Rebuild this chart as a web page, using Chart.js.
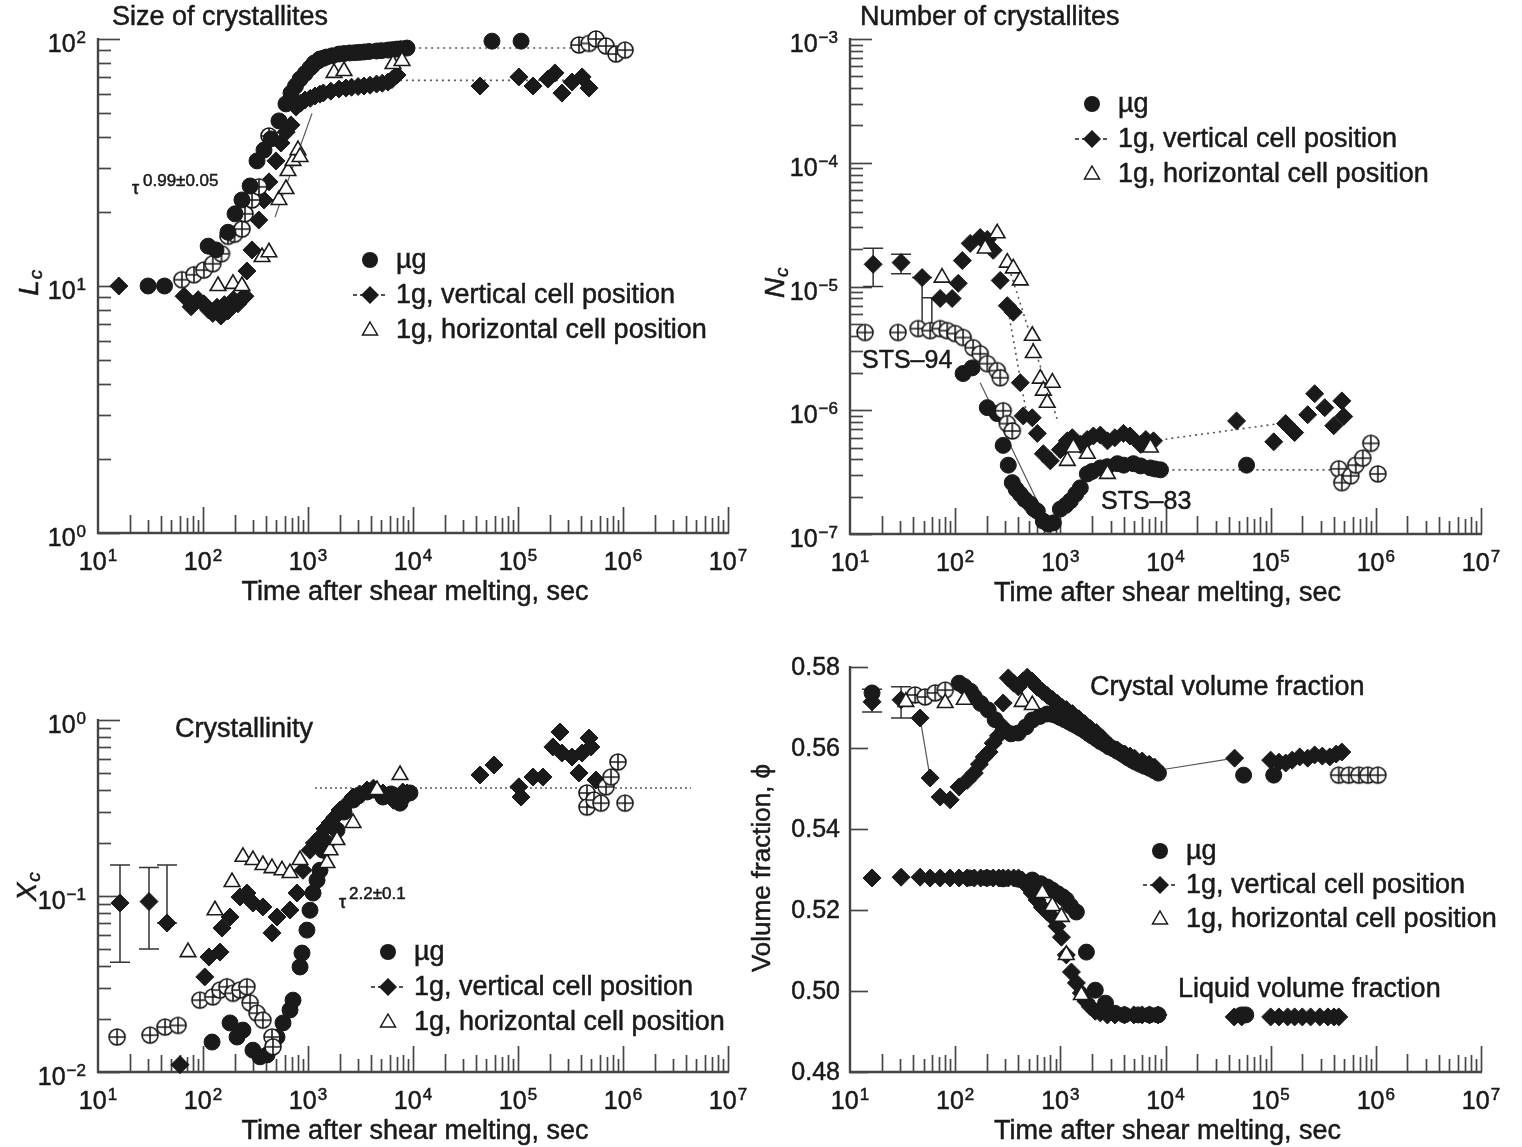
<!DOCTYPE html>
<html>
<head>
<meta charset="utf-8">
<script src="https://cdn.jsdelivr.net/npm/chart.js@4.4.1/dist/chart.umd.min.js"></script>
<style>
  body { margin: 0; background: #fff; }
  #wrap { position: relative; width: 1522px; height: 1147px; }
  #wrap canvas { position: absolute; left: 0; top: 0; }
</style>
</head>
<body>
<div id="wrap">
  <canvas id="c1" width="1522" height="1147"></canvas>
  <canvas id="c2" width="1522" height="1147"></canvas>
  <canvas id="c3" width="1522" height="1147"></canvas>
  <canvas id="c4" width="1522" height="1147"></canvas>
</div>
<script>
// ---- Size of crystallites (Lc) ----
const lcMuT = [30, 43, 112, 133, 173, 202, 235, 281, 327, 381, 444, 529, 617, 689, 760, 840, 940, 1045, 1100, 1150, 1250, 1301, 1400, 1500, 1700, 1974, 2200, 2500, 2800, 3100, 3415, 3800, 4500, 5000, 5783, 6300, 7000, 7700, 8770, 56500, 107000];
const lcMuL = [10, 10, 14.5, 14.0, 16.5, 19.6, 22.3, 25.4, 32.1, 35.5, 39.4, 46.6, 54.6, 60.4, 64.5, 68.8, 72.5, 76.3, 78, 80, 81.5, 83.0, 83.5, 84.5, 85.5, 86.9, 87.3, 87.8, 88, 88.3, 88.6, 89, 89.4, 89.7, 90.2, 90.5, 91, 91.3, 91.9, 98, 98];
const lcCrossT = [63, 82, 102, 124, 150, 173, 200, 235, 251, 293, 341, 425, 381000, 475000, 553000, 689000, 857000, 1045000];
const lcCrossL = [10.6, 11.1, 11.6, 12.3, 13.5, 15.9, 16.2, 17.0, 19.6, 22.3, 25.2, 40.5, 94.6, 96, 100, 93.7, 86.9, 90.2];
const lcVertT = [15.8, 66, 77, 90, 102, 113, 124, 136, 148, 160, 173, 195, 215, 235, 251, 262, 293, 340, 381, 425, 495, 553, 620, 689, 769, 850, 936, 1050, 1166, 1300, 1400, 1650, 1974, 2300, 2600, 3000, 3415, 3900, 4500, 5100, 5783, 6300, 7050, 43500, 102000, 139000, 193000, 225000, 262000, 327000, 408000, 475000];
const lcVertL = [10, 9.09, 8.24, 8.8, 8.47, 8.0, 7.74, 8.2, 7.56, 8.4, 7.93, 8.8, 8.47, 8.9, 9.09, 11.5, 14.0, 18.5, 22.3, 26.4, 32.1, 37.9, 42, 44.9, 53.0, 55, 56.6, 57.5, 58.8, 59.8, 60.5, 61.5, 62.7, 63.3, 63.8, 64.2, 64.5, 65, 65.7, 66.2, 66.9, 68.5, 71.5, 64.5, 70.2, 64.5, 68.8, 72.9, 60.4, 66.9, 70.2, 63.3];
const lcHorT = [139, 193, 235, 365, 425, 529, 617, 645, 720, 803, 840, 1770, 2201, 6450, 7860];
const lcHorL = [10, 10.2, 10, 13.1, 13.7, 22.3, 24.7, 29.2, 32.1, 35.5, 33.3, 72.9, 74.2, 79.2, 81.5];
const lcDotHiT = [8800, 400000];
const lcDotHiL = [92, 92];
const lcDotLoT = [7500, 420000];
const lcDotLoL = [68, 68];
const lcFitT = [485, 1092];
const lcFitL = [19, 50];

// ---- Number of crystallites (Nc) ----
const ncVertT = [16.6, 30.6, 48.5, 72, 93.6, 107, 117, 139, 173, 202, 230, 268, 313, 357, 416, 444, 541, 604, 689, 803, 1000, 1166, 1300, 1549, 1800, 2061, 2400, 2805, 3300, 3981, 4600, 5783, 6500, 7690, 47400, 107000, 139000, 169000, 225000, 262000, 327000, 398000, 475000, 495000];
const ncVertN = [1.51e-5, 1.56e-5, 1.18e-5, 8.0e-6, 8.0e-6, 1.06e-5, 1.62e-5, 2.23e-5, 2.49e-5, 2.4e-5, 1.96e-5, 1.12e-5, 7.0e-6, 6.2e-6, 1.67e-6, 9.0e-7, 8.7e-7, 6.5e-7, 4.45e-7, 3.9e-7, 4.8e-7, 5.66e-7, 6.0e-7, 5.3e-7, 5.8e-7, 6.2e-7, 6.3e-7, 5.66e-7, 6.0e-7, 6.5e-7, 6.2e-7, 5.3e-7, 5.8e-7, 5.66e-7, 8.2e-7, 5.56e-7, 7.8e-7, 6.6e-7, 9.2e-7, 1.36e-6, 1.05e-6, 7.5e-7, 1.19e-6, 8.9e-7];
const ncHorT = [75, 193, 251, 313, 357, 416, 541, 553, 645, 689, 751, 840, 1166, 1330, 1807, 2805, 7190];
const ncHorN = [1.18e-5, 2.03e-5, 2.69e-5, 1.56e-5, 1.4e-5, 1.12e-5, 4.0e-6, 2.9e-6, 1.8e-6, 1.44e-6, 1.15e-6, 1.67e-6, 3.9e-7, 5.0e-7, 4.45e-7, 3.06e-7, 5.0e-7];
const ncMuT = [119, 145, 202, 251, 286, 320, 349, 380, 416, 460, 518, 560, 604, 689, 770, 858, 1000, 1120, 1245, 1400, 1549, 1807, 2000, 2404, 2800, 3491, 4000, 4955, 5800, 7190, 8000, 8960, 59000];
const ncMuN = [1.98e-6, 2.2e-6, 1.05e-6, 9.4e-7, 5.2e-7, 3.6e-7, 2.6e-7, 2.3e-7, 2.1e-7, 1.9e-7, 1.75e-7, 1.6e-7, 1.53e-7, 1.27e-7, 1.2e-7, 1.23e-7, 1.59e-7, 1.7e-7, 1.85e-7, 2.1e-7, 2.36e-7, 3.06e-7, 3.2e-7, 3.42e-7, 3.5e-7, 3.7e-7, 3.6e-7, 3.7e-7, 3.55e-7, 3.42e-7, 3.35e-7, 3.3e-7, 3.6e-7];
const ncCrossT = [13.9, 28.6, 44.5, 57.8, 72, 84, 100, 119, 148, 173, 202, 251, 268, 286, 313, 349, 444000, 475000, 578000, 645000, 751000, 896000, 1045000];
const ncCrossN = [4.25e-6, 4.25e-6, 4.57e-6, 4.4e-6, 4.57e-6, 4.4e-6, 4.17e-6, 3.87e-6, 3.2e-6, 2.86e-6, 2.38e-6, 2.09e-6, 1.83e-6, 9.9e-7, 7.8e-7, 6.8e-7, 3.36e-7, 2.6e-7, 2.95e-7, 3.6e-7, 4.1e-7, 5.4e-7, 3.06e-7];
const ncErrT = [16.6, 30.6, 48.5, 60];
const ncErrHi = [2.04e-5, 1.82e-5, 1.18e-5, 8.1e-6];
const ncErrLo = [1.0e-5, 1.27e-5, 4.4e-6, 4.4e-6];
const ncDotVertT = [7690, 150000];
const ncDotVertN = [5.66e-7, 8.0e-7];
const ncDotMuT = [8960, 430000];
const ncDotMuN = [3.3e-7, 3.3e-7];
const ncDotHorT = [313, 957];
const ncDotHorN = [1.56e-5, 7.9e-7];
const ncDotDropT = [313, 485];
const ncDotDropN = [7.0e-6, 8.7e-7];
const ncFitT = [173, 769, 1730];
const ncFitN = [1.67e-6, 1.2e-7, 2.54e-7];

// ---- Crystallinity (Xc) ----
const xcVertT = [16.2, 30.6, 45.4, 60.4, 104, 114, 145, 152, 181, 225, 262, 299, 372, 454, 507, 674, 785, 896, 1045, 1150, 1301, 1450, 1621, 1800, 2018, 2300, 2685, 3100, 3650, 4200, 4600, 5180, 6000, 6500, 7050, 8000, 8770, 43500, 59000, 102000, 107000, 139000, 173000, 215000, 251000, 262000, 327000, 381000, 408000, 475000, 495000, 553000];
const xcVertX = [0.0912, 0.093, 0.0703, 0.011, 0.0347, 0.045, 0.048, 0.0658, 0.076, 0.0987, 0.104, 0.0912, 0.0867, 0.0617, 0.076, 0.0832, 0.104, 0.14, 0.182, 0.2, 0.216, 0.24, 0.26, 0.28, 0.308, 0.33, 0.365, 0.38, 0.40, 0.41, 0.39, 0.385, 0.37, 0.35, 0.365, 0.39, 0.385, 0.487, 0.555, 0.417, 0.365, 0.474, 0.474, 0.703, 0.855, 0.649, 0.616, 0.5, 0.649, 0.79, 0.703, 0.456];
const xcMuT = [122, 181, 211, 240, 299, 349, 407, 507, 578, 674, 720, 840, 877, 977, 1045, 1117, 1219, 1301, 1390, 1500, 1888, 2200, 2685, 3000, 3650, 4200, 5180, 6200, 7520, 8200, 9350];
const xcMuX = [0.0148, 0.019, 0.0158, 0.0173, 0.0133, 0.0122, 0.0125, 0.0158, 0.019, 0.0225, 0.0256, 0.0395, 0.0474, 0.064, 0.083, 0.104, 0.123, 0.14, 0.182, 0.2, 0.237, 0.3, 0.351, 0.37, 0.39, 0.4, 0.365, 0.38, 0.337, 0.37, 0.385];
const xcCrossT = [15.2, 31.3, 43.5, 57.8, 93.5, 124, 145, 169, 193, 225, 262, 281, 327, 372, 454, 464, 454000, 454000, 530000, 617000, 689000, 769000, 896000, 1045000];
const xcCrossX = [0.0158, 0.0162, 0.018, 0.0184, 0.0256, 0.0267, 0.0292, 0.0305, 0.028, 0.0292, 0.0305, 0.0247, 0.0216, 0.0197, 0.0158, 0.0139, 0.385, 0.32, 0.351, 0.337, 0.417, 0.474, 0.577, 0.337];
const xcHorT = [72, 130, 189, 240, 299, 372, 454, 565, 674, 840, 1517, 1621, 1888, 2685, 4540, 7520];
const xcHorX = [0.048, 0.083, 0.12, 0.167, 0.16, 0.15, 0.144, 0.14, 0.135, 0.16, 0.154, 0.182, 0.208, 0.26, 0.40, 0.487];
const xcErrT = [16.2, 30.6, 45.4];
const xcErrHi = [0.15, 0.145, 0.15];
const xcErrLo = [0.042, 0.05, 0.0703];
const xcDotT = [1166, 4450000];
const xcDotX = [0.411, 0.411];

// ---- Volume fraction (phi) ----
const vfVertT = [16.2, 30.6, 46.4, 57.8, 72, 89.6, 109, 130, 152, 170, 189, 210, 230, 258, 286, 286, 320, 360, 398, 440, 485, 540, 604, 674, 750, 840, 940, 1040, 1140, 1300, 1500, 1700, 1930, 2200, 2500, 2990, 3500, 4100, 4600, 5070, 6000, 7000, 7860, 45400, 100000, 120000, 139000, 160000, 189000, 225000, 262000, 310000, 365000, 420000, 475000];
const vfVertY = [0.5714, 0.5719, 0.5674, 0.5526, 0.5479, 0.5472, 0.5504, 0.552, 0.5538, 0.556, 0.5578, 0.559, 0.5612, 0.563, 0.5652, 0.5711, 0.5773, 0.576, 0.5751, 0.5765, 0.5775, 0.5765, 0.575, 0.574, 0.573, 0.572, 0.571, 0.570, 0.5695, 0.5685, 0.5672, 0.566, 0.5648, 0.5638, 0.5625, 0.5605, 0.5595, 0.5585, 0.558, 0.5575, 0.5568, 0.556, 0.5553, 0.5575, 0.557, 0.5565, 0.5563, 0.557, 0.5578, 0.5575, 0.5583, 0.558, 0.5578, 0.5585, 0.559];
const vfMuT = [16.2, 109, 122, 140, 152, 175, 206, 240, 286, 340, 398, 470, 541, 640, 750, 840, 920, 1000, 1100, 1200, 1300, 1420, 1550, 1700, 1850, 2000, 2200, 2400, 2650, 2900, 3200, 3500, 3800, 4070, 4400, 4800, 5200, 5700, 6300, 7050, 7800, 8570, 55300, 107000];
const vfMuY = [0.5736, 0.576, 0.5752, 0.574, 0.5726, 0.571, 0.5694, 0.567, 0.5644, 0.5635, 0.5637, 0.5652, 0.5669, 0.5678, 0.5684, 0.5683, 0.568, 0.5675, 0.567, 0.5665, 0.566, 0.5655, 0.5649, 0.5643, 0.5636, 0.563, 0.5623, 0.5616, 0.561, 0.5603, 0.5598, 0.5592, 0.5587, 0.5582, 0.5576, 0.557, 0.5565, 0.556, 0.5555, 0.555, 0.5544, 0.5538, 0.5533, 0.5533];
const vfCrossT = [41.6, 51.8, 64.5, 80.4, 444000, 553000, 689000, 840000, 1045000];
const vfCrossY = [0.5731, 0.5726, 0.5736, 0.5743, 0.5533, 0.5533, 0.5533, 0.5533, 0.5533];
const vfHorT = [34, 80.4, 122, 434, 541, 674, 840, 1024, 1140, 1585];
const vfHorY = [0.5714, 0.5711, 0.5719, 0.5714, 0.5706, 0.5242, 0.521, 0.5183, 0.5089, 0.499];
const lqVertT = [16.2, 30.6, 46.4, 57.8, 72, 89.6, 109, 130, 152, 175, 200, 230, 260, 286, 320, 360, 400, 434, 480, 541, 600, 674, 750, 840, 930, 1024, 1140, 1275, 1420, 1585, 1750, 1930, 2150, 2400, 2800, 3300, 4070, 5000, 6000, 7050, 8500, 45000, 53000, 100000, 120000, 145000, 169000, 200000, 240000, 293000, 350000, 400000, 444000];
const lqVertY = [0.5279, 0.5281, 0.5281, 0.5279, 0.5279, 0.5279, 0.5279, 0.5279, 0.5279, 0.5279, 0.5279, 0.5279, 0.5279, 0.5279, 0.5279, 0.5279, 0.5279, 0.5274, 0.526, 0.5242, 0.5225, 0.5207, 0.5195, 0.5183, 0.516, 0.5133, 0.5089, 0.5047, 0.502, 0.4995, 0.4975, 0.4961, 0.495, 0.4946, 0.4941, 0.4941, 0.4941, 0.4941, 0.4941, 0.4941, 0.4941, 0.4936, 0.4936, 0.4936, 0.4936, 0.4936, 0.4936, 0.4936, 0.4936, 0.4936, 0.4936, 0.4936, 0.4936];
const lqMuT = [136, 200, 286, 400, 541, 650, 750, 840, 950, 1060, 1140, 1250, 1420, 1770, 2150, 2690, 3300, 4070, 5500, 7050, 8500, 53000, 58000];
const lqMuY = [0.5279, 0.5279, 0.5277, 0.5276, 0.5274, 0.5265, 0.5257, 0.5249, 0.524, 0.5232, 0.5225, 0.521, 0.5195, 0.5096, 0.5002, 0.497, 0.4945, 0.4941, 0.4941, 0.4941, 0.4941, 0.4941, 0.4941];
const vfErrT = [16.2, 30.6];
const vfErrHi = [0.5745, 0.5751];
const vfErrLo = [0.5689, 0.5674];
const vfLinkT = [46.4, 57.8];
const vfLinkY = [0.5674, 0.5526];
const vfGapT = [8570, 45400];
const vfGapY = [0.5545, 0.5575];

const xExps = ['1', '2', '3', '4', '5', '6', '7'];

const FONT = '"Liberation Sans", Arial, Helvetica, sans-serif';
const INK = '#1a1a1a';
const AX = '#454545';

function pts(xs, ys) { return xs.map((x, i) => ({ x: x, y: ys[i] })); }

// crossed circle marker used for the second micro-gravity run
const crossMark = document.createElement('canvas');
crossMark.width = 20; crossMark.height = 20;
(function () {
  const c = crossMark.getContext('2d');
  c.fillStyle = '#fff'; c.strokeStyle = INK; c.lineWidth = 1.6;
  c.beginPath(); c.arc(10, 10, 8, 0, Math.PI * 2); c.fill(); c.stroke();
  c.beginPath(); c.moveTo(2, 10); c.lineTo(18, 10); c.moveTo(10, 2); c.lineTo(10, 18); c.stroke();
})();

function markSet(data, style, r, fill, bw) {
  return { data: data, showLine: false, clip: false, pointStyle: style, pointRadius: r,
    pointBackgroundColor: fill, pointBorderColor: INK, pointBorderWidth: bw };
}
function muSet(d) { return markSet(d, 'circle', 8, INK, 1); }
function vertSet(d) { return markSet(d, 'rectRot', 9, INK, 1); }
function horSet(d) { return markSet(d, 'triangle', 9, '#fff', 1.6); }
function crossSet(d) { return markSet(d, crossMark, 9, '#fff', 1); }
function lineSet(d, dash, w) {
  return { data: d, showLine: true, pointRadius: 0, borderColor: '#555', borderWidth: w || 1.6,
    borderDash: dash || [], fill: false, clip: false, tension: 0 };
}

function logTicks(lo, hi) {
  const t = [];
  for (let e = lo; e < hi; e++) {
    t.push({ v: Math.pow(10, e), len: 22 });
    for (let k = 2; k <= 9; k++) t.push({ v: k * Math.pow(10, e), len: 13 });
  }
  t.push({ v: Math.pow(10, hi), len: 22 });
  return t;
}

function setFont(ctx, size, style) { ctx.font = (style || '') + ' ' + size + 'px ' + FONT; }

// fill plus a thin stroke, to get the heavier look of the printed figure
function ink(ctx, s, x, y) {
  ctx.fillText(s, x, y);
  ctx.lineWidth = 0.5; ctx.strokeStyle = INK;
  ctx.strokeText(s, x, y);
}

function powLabel(ctx, exp, x, base, align) {
  setFont(ctx, 25); const w1 = ctx.measureText('10').width;
  setFont(ctx, 17); const w2 = ctx.measureText(exp).width;
  const w = w1 + 1 + w2;
  const left = align === 'center' ? x - w / 2 : x - w;
  ctx.textAlign = 'left'; ctx.textBaseline = 'alphabetic';
  setFont(ctx, 25); ink(ctx, '10', left, base);
  setFont(ctx, 17); ink(ctx, exp, left + w1 + 1, base - 9);
}

function text(ctx, s, x, y, size, align, style) {
  setFont(ctx, size, style);
  ctx.textAlign = align || 'left'; ctx.textBaseline = 'middle';
  ink(ctx, s, x, y);
}

function rotTitle(ctx, main, sub, x, y, size) {
  ctx.save();
  ctx.translate(x, y); ctx.rotate(-Math.PI / 2);
  ctx.textBaseline = 'alphabetic'; ctx.textAlign = 'left';
  setFont(ctx, size, 'italic');
  const w = ctx.measureText(main).width;
  ink(ctx, main, -w / 2 - 4, 0);
  setFont(ctx, size * 0.68, 'italic');
  ink(ctx, sub, w / 2 - 3, 4);
  ctx.restore();
}

function legend(ctx, x, y0, dy) {
  const rows = ['\u00b5g', '1g, vertical cell position', '1g, horizontal cell position'];
  ctx.save();
  ctx.strokeStyle = INK; ctx.fillStyle = INK; ctx.lineWidth = 1.6;
  ctx.beginPath(); ctx.arc(x, y0, 8, 0, Math.PI * 2); ctx.fill();
  const y1 = y0 + dy;
  ctx.setLineDash([4, 3]); ctx.lineWidth = 1.4;
  ctx.beginPath(); ctx.moveTo(x - 17, y1); ctx.lineTo(x + 17, y1); ctx.stroke();
  ctx.setLineDash([]);
  ctx.beginPath(); ctx.moveTo(x - 9, y1); ctx.lineTo(x, y1 - 9); ctx.lineTo(x + 9, y1); ctx.lineTo(x, y1 + 9); ctx.closePath(); ctx.fill();
  const y2 = y0 + 2 * dy;
  ctx.lineWidth = 1.5; ctx.fillStyle = '#fff';
  ctx.beginPath(); ctx.moveTo(x, y2 - 8); ctx.lineTo(x + 7.5, y2 + 5); ctx.lineTo(x - 7.5, y2 + 5); ctx.closePath(); ctx.fill(); ctx.stroke();
  ctx.fillStyle = INK;
  rows.forEach((r, i) => text(ctx, r, x + 26, y0 + i * dy + 1, 27));
  ctx.restore();
}

function decoPlugin(d) {
  return {
    id: 'deco',
    beforeDatasetsDraw(chart) {
      const ctx = chart.ctx, a = chart.chartArea, xs = chart.scales.x, ys = chart.scales.y;
      ctx.save();
      ctx.strokeStyle = AX;
      ctx.lineWidth = 1.7;
      const xl = { 1: 26, 2: 18, 3: 13, 4: 17, 5: 13, 6: 17, 7: 15, 8: 17, 9: 13 };
      for (let e = 1; e <= 7; e++) {
        for (let k = 1; k <= 9; k++) {
          const v = k * Math.pow(10, e);
          if (v > 1e7 || v === 10) continue;
          const px = Math.round(xs.getPixelForValue(v)) + 0.5;
          ctx.beginPath(); ctx.moveTo(px, a.bottom); ctx.lineTo(px, a.bottom - xl[k]); ctx.stroke();
        }
      }
      d.yTicks.forEach(t => {
        const py = Math.round(ys.getPixelForValue(t.v)) + 0.5;
        ctx.beginPath(); ctx.moveTo(a.left, py); ctx.lineTo(a.left + t.len, py); ctx.stroke();
      });
      ctx.lineWidth = 2.4;
      ctx.beginPath(); ctx.moveTo(a.left, a.top - 1); ctx.lineTo(a.left, a.bottom); ctx.lineTo(a.right + 1, a.bottom); ctx.stroke();
      if (d.err) {
        ctx.lineWidth = 1.5; ctx.strokeStyle = '#333';
        d.err.t.forEach((t, i) => {
          const px = xs.getPixelForValue(t);
          const ph = ys.getPixelForValue(d.err.hi[i]), pl = ys.getPixelForValue(d.err.lo[i]);
          ctx.beginPath();
          ctx.moveTo(px, ph); ctx.lineTo(px, pl);
          ctx.moveTo(px - 10, ph); ctx.lineTo(px + 10, ph);
          ctx.moveTo(px - 10, pl); ctx.lineTo(px + 10, pl);
          ctx.stroke();
        });
      }
      ctx.restore();
    },
    afterDatasetsDraw(chart) {
      const ctx = chart.ctx, a = chart.chartArea, xs = chart.scales.x, ys = chart.scales.y;
      ctx.save();
      ctx.fillStyle = INK;
      xExps.forEach((e, i) => powLabel(ctx, e, xs.getPixelForValue(Math.pow(10, i + 1)), a.bottom + 37, 'center'));
      d.yLabels(ctx, a, ys);
      text(ctx, 'Time after shear melting, sec', (a.left + a.right) / 2 + 2, a.bottom + 60, 27, 'center');
      d.extra(ctx, a);
      ctx.restore();
    }
  };
}

function panel(id, yType, yMin, yMax, pad, datasets, deco) {
  return new Chart(document.getElementById(id), {
    type: 'scatter',
    data: { datasets: datasets },
    options: {
      responsive: false, animation: false, events: [],
      layout: { padding: pad },
      plugins: { legend: { display: false }, tooltip: { enabled: false } },
      scales: {
        x: { type: 'logarithmic', min: 10, max: 1e7, display: false },
        y: { type: yType, min: yMin, max: yMax, display: false }
      }
    },
    plugins: [decoPlugin(deco)]
  });
}

function logYLabels(lo, hi) {
  return function (ctx, a, ys) {
    for (let e = lo; e <= hi; e++) {
      const s = e < 0 ? '\u2212' + (-e) : String(e);
      powLabel(ctx, s, a.left - 12, ys.getPixelForValue(Math.pow(10, e)) + 13, 'right');
    }
  };
}

// Panel 1
panel('c1', 'logarithmic', 1, 100, { left: 98, top: 39, right: 794, bottom: 614 }, [
  horSet(pts(lcHorT, lcHorL)),
  muSet(pts(lcMuT, lcMuL)),
  crossSet(pts(lcCrossT, lcCrossL)),
  vertSet(pts(lcVertT, lcVertL)),
  lineSet(pts(lcDotHiT, lcDotHiL), [2, 4]),
  lineSet(pts(lcDotLoT, lcDotLoL), [2, 4]),
  lineSet(pts(lcFitT, lcFitL), [], 1.2)
], {
  yTicks: logTicks(0, 2),
  yLabels: logYLabels(0, 2),
  extra(ctx, a) {
    text(ctx, 'Size of crystallites', 112, 18, 27);
    rotTitle(ctx, 'L', 'c', 38, 284, 28);
    text(ctx, '\u03c4', 132, 189, 18);
    text(ctx, '0.99\u00b10.05', 143, 181, 17);
    legend(ctx, 370, 260, 35);
  }
});

// Panel 2
panel('c2', 'logarithmic', 1e-7, 1e-3, { left: 850, top: 39, right: 41, bottom: 613 }, [
  horSet(pts(ncHorT, ncHorN)),
  crossSet(pts(ncCrossT, ncCrossN)),
  muSet(pts(ncMuT, ncMuN)),
  vertSet(pts(ncVertT, ncVertN)),
  lineSet(pts(ncDotVertT, ncDotVertN), [2, 4]),
  lineSet(pts(ncDotMuT, ncDotMuN), [2, 4]),
  lineSet(pts(ncDotHorT, ncDotHorN), [2, 4]),
  lineSet(pts(ncDotDropT, ncDotDropN), [2, 4]),
  lineSet(pts(ncFitT, ncFitN), [], 1.2)
], {
  yTicks: logTicks(-7, -3),
  yLabels: logYLabels(-7, -3),
  err: { t: ncErrT, hi: ncErrHi, lo: ncErrLo },
  extra(ctx, a) {
    text(ctx, 'Number of crystallites', 860, 18, 27);
    rotTitle(ctx, 'N', 'c', 784, 284, 28);
    text(ctx, 'STS\u201394', 862, 361, 25);
    text(ctx, 'STS\u201383', 1101, 502, 25);
    legend(ctx, 1092, 104, 35);
  }
});

// Panel 3
panel('c3', 'logarithmic', 0.01, 1, { left: 98, top: 720, right: 794, bottom: 75 }, [
  horSet(pts(xcHorT, xcHorX)),
  crossSet(pts(xcCrossT, xcCrossX)),
  muSet(pts(xcMuT, xcMuX)),
  vertSet(pts(xcVertT, xcVertX)),
  lineSet(pts(xcDotT, xcDotX), [2, 3], 1.6)
], {
  yTicks: logTicks(-2, 0),
  yLabels: logYLabels(-2, 0),
  err: { t: xcErrT, hi: xcErrHi, lo: xcErrLo },
  extra(ctx, a) {
    text(ctx, 'Crystallinity', 175, 730, 27);
    rotTitle(ctx, 'X', 'c', 36, 888, 28);
    text(ctx, '\u03c4', 339, 903, 18);
    text(ctx, '2.2\u00b10.1', 349, 894, 17);
    legend(ctx, 388, 952, 35);
  }
});

// Panel 4
const vfTicks = [0.48, 0.50, 0.52, 0.54, 0.56, 0.58];
panel('c4', 'linear', 0.48, 0.58, { left: 850, top: 667, right: 41, bottom: 75 }, [
  horSet(pts(vfHorT, vfHorY)),
  crossSet(pts(vfCrossT, vfCrossY)),
  muSet(pts(vfMuT, vfMuY)),
  muSet(pts(lqMuT, lqMuY)),
  vertSet(pts(vfVertT, vfVertY)),
  vertSet(pts(lqVertT, lqVertY)),
  lineSet(pts(vfLinkT, vfLinkY), [], 1.2),
  lineSet(pts(vfGapT, vfGapY), [], 1.2)
], {
  yTicks: vfTicks.map(v => ({ v: v, len: 18 })),
  yLabels(ctx, a, ys) {
    vfTicks.forEach(v => text(ctx, v.toFixed(2), a.left - 10, ys.getPixelForValue(v) + 1, 25, 'right'));
  },
  err: { t: vfErrT, hi: vfErrHi, lo: vfErrLo },
  extra(ctx, a) {
    text(ctx, 'Crystal volume fraction', 1090, 688, 27);
    text(ctx, 'Liquid volume fraction', 1178, 990, 27);
    ctx.save();
    ctx.translate(770, 868); ctx.rotate(-Math.PI / 2);
    setFont(ctx, 26); ctx.textAlign = 'center'; ctx.textBaseline = 'alphabetic';
    ink(ctx, 'Volume fraction, \u03d5', 0, 0);
    ctx.restore();
    legend(ctx, 1160, 851, 34);
  }
});
</script>
</body>
</html>
